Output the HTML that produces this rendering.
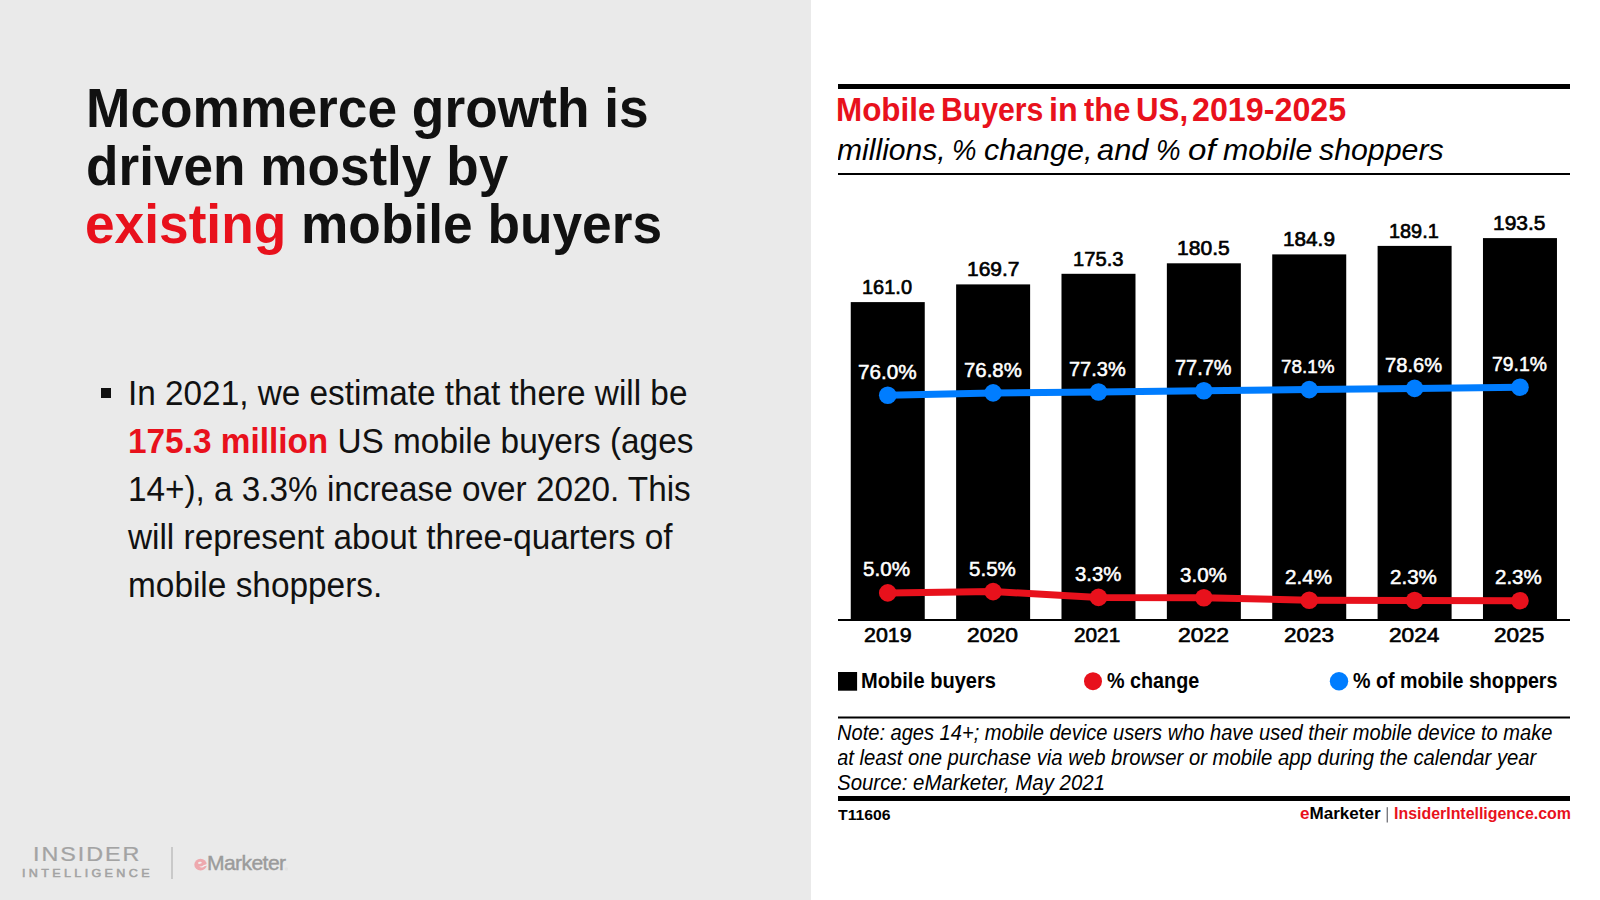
<!DOCTYPE html>
<html><head><meta charset="utf-8">
<style>
*{margin:0;padding:0;box-sizing:border-box}
html,body{width:1600px;height:900px;overflow:hidden;background:#fff;font-family:"Liberation Sans",sans-serif}
.a{position:absolute;white-space:nowrap}
#left{position:absolute;left:0;top:0;width:811px;height:900px;background:#eaeaea}
.r{color:#e8111c}
</style></head><body>
<div id="left">
<div class="a" style="left:85.94px;top:81.86px;font-size:53.33px;line-height:53.33px;font-weight:bold;font-style:normal;color:#111;transform:scale(0.9995,1.0548);transform-origin:0 45.14px;">Mcommerce growth is</div>
<div class="a" style="left:86.17px;top:139.66px;font-size:53.33px;line-height:53.33px;font-weight:bold;font-style:normal;color:#111;transform:scale(0.9962,1.0548);transform-origin:0 45.14px;">driven mostly by</div>
<div class="a" style="left:85.17px;top:197.56px;font-size:53.33px;line-height:53.33px;font-weight:bold;font-style:normal;color:#111;transform:scale(0.9985,1.0548);transform-origin:0 45.14px;"><span class="r">existing</span> mobile buyers</div>
<div class="a" style="left:100.6px;top:388px;width:10.1px;height:9.8px;background:#111"></div>
<div class="a" style="left:127.83px;top:376.72px;font-size:33.33px;line-height:33.33px;font-weight:normal;font-style:normal;color:#111;transform:scale(0.9999,1.0457);transform-origin:0 28.21px;">In 2021, we estimate that there will be</div>
<div class="a" style="left:127.83px;top:424.67px;font-size:33.33px;line-height:33.33px;font-weight:normal;font-style:normal;color:#111;transform:scale(1.0007,1.0457);transform-origin:0 28.21px;"><b class="r">175.3 million</b> US mobile buyers (ages</div>
<div class="a" style="left:127.83px;top:472.62px;font-size:33.33px;line-height:33.33px;font-weight:normal;font-style:normal;color:#111;transform:scale(0.9986,1.0457);transform-origin:0 28.21px;">14+), a 3.3% increase over 2020. This</div>
<div class="a" style="left:127.83px;top:520.57px;font-size:33.33px;line-height:33.33px;font-weight:normal;font-style:normal;color:#111;transform:scale(0.9998,1.0457);transform-origin:0 28.21px;">will represent about three-quarters of</div>
<div class="a" style="left:127.83px;top:568.52px;font-size:33.33px;line-height:33.33px;font-weight:normal;font-style:normal;color:#111;transform:scale(1.0018,1.0457);transform-origin:0 28.21px;">mobile shoppers.</div>
</div>
<svg class="a" style="left:0;top:0" width="1600" height="900"><rect x="838" y="84" width="732" height="5" fill="#000"/><rect x="838" y="173" width="732" height="2" fill="#000"/><rect x="850.75" y="302.10" width="74.0" height="317.90" fill="#000"/><rect x="956.12" y="284.40" width="74.0" height="335.60" fill="#000"/><rect x="1061.49" y="273.80" width="74.0" height="346.20" fill="#000"/><rect x="1166.86" y="263.30" width="74.0" height="356.70" fill="#000"/><rect x="1272.23" y="254.40" width="74.0" height="365.60" fill="#000"/><rect x="1377.60" y="245.90" width="74.0" height="374.10" fill="#000"/><rect x="1482.97" y="238.10" width="74.0" height="381.90" fill="#000"/><rect x="838" y="619" width="732" height="2" fill="#000"/><polyline points="887.75,395.20 993.12,392.90 1098.49,392.00 1203.86,390.80 1309.23,389.60 1414.60,388.40 1519.97,387.20" fill="none" stroke="#007dff" stroke-width="7" stroke-linejoin="round"/><circle cx="887.75" cy="395.20" r="8.8" fill="#007dff"/><circle cx="993.12" cy="392.90" r="8.8" fill="#007dff"/><circle cx="1098.49" cy="392.00" r="8.8" fill="#007dff"/><circle cx="1203.86" cy="390.80" r="8.8" fill="#007dff"/><circle cx="1309.23" cy="389.60" r="8.8" fill="#007dff"/><circle cx="1414.60" cy="388.40" r="8.8" fill="#007dff"/><circle cx="1519.97" cy="387.20" r="8.8" fill="#007dff"/><polyline points="887.75,592.90 993.12,591.60 1098.49,597.40 1203.86,597.80 1309.23,600.20 1414.60,600.50 1519.97,600.70" fill="none" stroke="#e8111c" stroke-width="7" stroke-linejoin="round"/><circle cx="887.75" cy="592.90" r="8.8" fill="#e8111c"/><circle cx="993.12" cy="591.60" r="8.8" fill="#e8111c"/><circle cx="1098.49" cy="597.40" r="8.8" fill="#e8111c"/><circle cx="1203.86" cy="597.80" r="8.8" fill="#e8111c"/><circle cx="1309.23" cy="600.20" r="8.8" fill="#e8111c"/><circle cx="1414.60" cy="600.50" r="8.8" fill="#e8111c"/><circle cx="1519.97" cy="600.70" r="8.8" fill="#e8111c"/><rect x="838" y="672" width="19.1" height="18.7" fill="#000"/><circle cx="1093" cy="681.2" r="9" fill="#e8111c"/><circle cx="1339" cy="681.2" r="9.2" fill="#007dff"/><rect x="838" y="716.5" width="732" height="2" fill="#000"/><rect x="838" y="796" width="732" height="5" fill="#000"/><rect x="1386.6" y="807.2" width="1.4" height="15.3" fill="#7a7a80"/></svg>
<div class="a" style="left:861.90px;top:276.65px;font-size:20.5px;line-height:20.5px;font-weight:normal;font-style:normal;color:#000;transform:scale(0.9756,0.9531);transform-origin:0 17.35px;-webkit-text-stroke:0.032em currentColor;">161.0</div>
<div class="a" style="left:857.92px;top:362.40px;font-size:20.5px;line-height:20.5px;font-weight:normal;font-style:normal;color:#fff;transform:scale(1.0099,1.0181);transform-origin:0 17.35px;-webkit-text-stroke:0.026em currentColor;">76.0%</div>
<div class="a" style="left:863.48px;top:559.35px;font-size:20.5px;line-height:20.5px;font-weight:normal;font-style:normal;color:#fff;transform:scale(1.0062,1.0010);transform-origin:0 17.35px;-webkit-text-stroke:0.026em currentColor;">5.0%</div>
<div class="a" style="left:864.05px;top:624.95px;font-size:20.5px;line-height:20.5px;font-weight:normal;font-style:normal;color:#000;transform:scale(1.0434,1.0008);transform-origin:0 17.35px;-webkit-text-stroke:0.032em currentColor;">2019</div>
<div class="a" style="left:966.54px;top:259.25px;font-size:20.5px;line-height:20.5px;font-weight:normal;font-style:normal;color:#000;transform:scale(1.0242,0.9804);transform-origin:0 17.35px;-webkit-text-stroke:0.032em currentColor;">169.7</div>
<div class="a" style="left:963.78px;top:360.15px;font-size:20.5px;line-height:20.5px;font-weight:normal;font-style:normal;color:#fff;transform:scale(0.9949,1.0215);transform-origin:0 17.35px;-webkit-text-stroke:0.026em currentColor;">76.8%</div>
<div class="a" style="left:968.79px;top:558.65px;font-size:20.5px;line-height:20.5px;font-weight:normal;font-style:normal;color:#fff;transform:scale(1.0019,0.9941);transform-origin:0 17.35px;-webkit-text-stroke:0.026em currentColor;">5.5%</div>
<div class="a" style="left:966.80px;top:624.95px;font-size:20.5px;line-height:20.5px;font-weight:normal;font-style:normal;color:#000;transform:scale(1.1153,1.0008);transform-origin:0 17.35px;-webkit-text-stroke:0.032em currentColor;">2020</div>
<div class="a" style="left:1072.59px;top:248.55px;font-size:20.5px;line-height:20.5px;font-weight:normal;font-style:normal;color:#000;transform:scale(0.9837,0.9531);transform-origin:0 17.35px;-webkit-text-stroke:0.032em currentColor;">175.3</div>
<div class="a" style="left:1069.30px;top:358.55px;font-size:20.5px;line-height:20.5px;font-weight:normal;font-style:normal;color:#fff;transform:scale(0.9747,1.0010);transform-origin:0 17.35px;-webkit-text-stroke:0.026em currentColor;">77.3%</div>
<div class="a" style="left:1074.69px;top:564.35px;font-size:20.5px;line-height:20.5px;font-weight:normal;font-style:normal;color:#fff;transform:scale(0.9931,0.9804);transform-origin:0 17.35px;-webkit-text-stroke:0.026em currentColor;">3.3%</div>
<div class="a" style="left:1074.37px;top:624.95px;font-size:20.5px;line-height:20.5px;font-weight:normal;font-style:normal;color:#000;transform:scale(1.0141,1.0008);transform-origin:0 17.35px;-webkit-text-stroke:0.032em currentColor;">2021</div>
<div class="a" style="left:1176.64px;top:237.65px;font-size:20.5px;line-height:20.5px;font-weight:normal;font-style:normal;color:#000;transform:scale(1.0271,0.9600);transform-origin:0 17.35px;-webkit-text-stroke:0.032em currentColor;">180.5</div>
<div class="a" style="left:1175.00px;top:357.85px;font-size:20.5px;line-height:20.5px;font-weight:normal;font-style:normal;color:#fff;transform:scale(0.9703,1.0353);transform-origin:0 17.35px;-webkit-text-stroke:0.026em currentColor;">77.7%</div>
<div class="a" style="left:1179.69px;top:564.85px;font-size:20.5px;line-height:20.5px;font-weight:normal;font-style:normal;color:#fff;transform:scale(1.0019,0.9667);transform-origin:0 17.35px;-webkit-text-stroke:0.026em currentColor;">3.0%</div>
<div class="a" style="left:1177.60px;top:624.95px;font-size:20.5px;line-height:20.5px;font-weight:normal;font-style:normal;color:#000;transform:scale(1.1205,1.0008);transform-origin:0 17.35px;-webkit-text-stroke:0.032em currentColor;">2022</div>
<div class="a" style="left:1282.51px;top:229.15px;font-size:20.5px;line-height:20.5px;font-weight:normal;font-style:normal;color:#000;transform:scale(1.0120,0.9531);transform-origin:0 17.35px;-webkit-text-stroke:0.032em currentColor;">184.9</div>
<div class="a" style="left:1281.44px;top:356.25px;font-size:20.5px;line-height:20.5px;font-weight:normal;font-style:normal;color:#fff;transform:scale(0.9229,0.9324);transform-origin:0 17.35px;-webkit-text-stroke:0.026em currentColor;">78.1%</div>
<div class="a" style="left:1285.28px;top:566.95px;font-size:20.5px;line-height:20.5px;font-weight:normal;font-style:normal;color:#fff;transform:scale(1.0053,0.9736);transform-origin:0 17.35px;-webkit-text-stroke:0.026em currentColor;">2.4%</div>
<div class="a" style="left:1283.71px;top:624.95px;font-size:20.5px;line-height:20.5px;font-weight:normal;font-style:normal;color:#000;transform:scale(1.0976,1.0008);transform-origin:0 17.35px;-webkit-text-stroke:0.032em currentColor;">2023</div>
<div class="a" style="left:1388.51px;top:220.65px;font-size:20.5px;line-height:20.5px;font-weight:normal;font-style:normal;color:#000;transform:scale(0.9695,0.9804);transform-origin:0 17.35px;-webkit-text-stroke:0.032em currentColor;">189.1</div>
<div class="a" style="left:1385.19px;top:355.35px;font-size:20.5px;line-height:20.5px;font-weight:normal;font-style:normal;color:#fff;transform:scale(0.9826,0.9941);transform-origin:0 17.35px;-webkit-text-stroke:0.026em currentColor;">78.6%</div>
<div class="a" style="left:1390.38px;top:566.95px;font-size:20.5px;line-height:20.5px;font-weight:normal;font-style:normal;color:#fff;transform:scale(1.0042,0.9736);transform-origin:0 17.35px;-webkit-text-stroke:0.026em currentColor;">2.3%</div>
<div class="a" style="left:1388.81px;top:624.95px;font-size:20.5px;line-height:20.5px;font-weight:normal;font-style:normal;color:#000;transform:scale(1.1057,1.0008);transform-origin:0 17.35px;-webkit-text-stroke:0.032em currentColor;">2024</div>
<div class="a" style="left:1492.74px;top:212.55px;font-size:20.5px;line-height:20.5px;font-weight:normal;font-style:normal;color:#000;transform:scale(1.0221,0.9804);transform-origin:0 17.35px;-webkit-text-stroke:0.032em currentColor;">193.5</div>
<div class="a" style="left:1491.63px;top:354.05px;font-size:20.5px;line-height:20.5px;font-weight:normal;font-style:normal;color:#fff;transform:scale(0.9440,0.9941);transform-origin:0 17.35px;-webkit-text-stroke:0.026em currentColor;">79.1%</div>
<div class="a" style="left:1495.28px;top:567.15px;font-size:20.5px;line-height:20.5px;font-weight:normal;font-style:normal;color:#fff;transform:scale(0.9998,0.9598);transform-origin:0 17.35px;-webkit-text-stroke:0.026em currentColor;">2.3%</div>
<div class="a" style="left:1494.01px;top:624.95px;font-size:20.5px;line-height:20.5px;font-weight:normal;font-style:normal;color:#000;transform:scale(1.1018,1.0008);transform-origin:0 17.35px;-webkit-text-stroke:0.032em currentColor;">2025</div>
<div class="a" style="left:835.96px;top:94.54px;font-size:31.5px;line-height:31.5px;font-weight:bold;font-style:normal;color:#e8111c;transform:scale(0.9974,1.0330);transform-origin:0 26.66px;">Mobile</div>
<div class="a" style="left:941.24px;top:94.54px;font-size:31.5px;line-height:31.5px;font-weight:bold;font-style:normal;color:#e8111c;transform:scale(0.9587,1.0330);transform-origin:0 26.66px;">Buyers</div>
<div class="a" style="left:1049.04px;top:94.54px;font-size:31.5px;line-height:31.5px;font-weight:bold;font-style:normal;color:#e8111c;transform:scale(1.0260,1.0330);transform-origin:0 26.66px;">in</div>
<div class="a" style="left:1083.69px;top:94.54px;font-size:31.5px;line-height:31.5px;font-weight:bold;font-style:normal;color:#e8111c;transform:scale(0.9797,1.0330);transform-origin:0 26.66px;">the</div>
<div class="a" style="left:1136.33px;top:94.54px;font-size:31.5px;line-height:31.5px;font-weight:bold;font-style:normal;color:#e8111c;transform:scale(0.9915,1.0330);transform-origin:0 26.66px;">US,</div>
<div class="a" style="left:1192.27px;top:94.54px;font-size:31.5px;line-height:31.5px;font-weight:bold;font-style:normal;color:#e8111c;transform:scale(1.0237,1.0330);transform-origin:0 26.66px;">2019-2025</div>
<div class="a" style="left:838px;top:0;width:732px;height:900px;overflow:hidden">
<div class="a" style="left:-0.60px;top:134.83px;font-size:29.5px;line-height:29.5px;font-weight:normal;font-style:italic;color:#000;transform:scale(1.0204,0.9949);transform-origin:0 24.97px;">millions,</div>
<div class="a" style="left:114.28px;top:134.83px;font-size:29.5px;line-height:29.5px;font-weight:normal;font-style:italic;color:#000;transform:scale(0.9317,0.9949);transform-origin:0 24.97px;">%</div>
<div class="a" style="left:146.13px;top:134.83px;font-size:29.5px;line-height:29.5px;font-weight:normal;font-style:italic;color:#000;transform:scale(1.0324,0.9949);transform-origin:0 24.97px;">change,</div>
<div class="a" style="left:259.33px;top:134.83px;font-size:29.5px;line-height:29.5px;font-weight:normal;font-style:italic;color:#000;transform:scale(1.0454,0.9949);transform-origin:0 24.97px;">and</div>
<div class="a" style="left:317.57px;top:134.83px;font-size:29.5px;line-height:29.5px;font-weight:normal;font-style:italic;color:#000;transform:scale(0.9360,0.9949);transform-origin:0 24.97px;">%</div>
<div class="a" style="left:349.84px;top:134.83px;font-size:29.5px;line-height:29.5px;font-weight:normal;font-style:italic;color:#000;transform:scale(1.1223,0.9949);transform-origin:0 24.97px;">of</div>
<div class="a" style="left:385.29px;top:134.83px;font-size:29.5px;line-height:29.5px;font-weight:normal;font-style:italic;color:#000;transform:scale(1.0287,0.9949);transform-origin:0 24.97px;">mobile</div>
<div class="a" style="left:481.35px;top:134.83px;font-size:29.5px;line-height:29.5px;font-weight:normal;font-style:italic;color:#000;transform:scale(1.0273,0.9949);transform-origin:0 24.97px;">shoppers</div>
<div class="a" style="left:-0.60px;top:723.07px;font-size:20.0px;line-height:20.0px;font-weight:normal;font-style:italic;color:#000;transform:scale(1.0031,1.0701);transform-origin:0 16.93px;">Note: ages 14+; mobile device users who have used their mobile device to make</div>
<div class="a" style="left:-0.60px;top:747.67px;font-size:20.0px;line-height:20.0px;font-weight:normal;font-style:italic;color:#000;transform:scale(1.0146,1.0701);transform-origin:0 16.93px;">at least one purchase via web browser or mobile app during the calendar year</div>
<div class="a" style="left:-0.60px;top:772.67px;font-size:20.0px;line-height:20.0px;font-weight:normal;font-style:italic;color:#000;transform:scale(1.0215,1.0701);transform-origin:0 16.93px;">Source: eMarketer, May 2021</div>
<div class="a" style="left:0.04px;top:806.78px;font-size:15.5px;line-height:15.5px;font-weight:bold;font-style:normal;color:#000;transform:scale(1.0177,0.9796);transform-origin:0 13.12px;">T11606</div>
</div>
<div class="a" style="left:861.30px;top:670.75px;font-size:20.5px;line-height:20.5px;font-weight:bold;font-style:normal;color:#000;transform:scale(0.9793,1.0652);transform-origin:0 17.35px;">Mobile buyers</div>
<div class="a" style="left:1107.11px;top:670.75px;font-size:20.5px;line-height:20.5px;font-weight:bold;font-style:normal;color:#000;transform:scale(0.9640,1.0652);transform-origin:0 17.35px;">% change</div>
<div class="a" style="left:1352.61px;top:670.75px;font-size:20.5px;line-height:20.5px;font-weight:bold;font-style:normal;color:#000;transform:scale(0.9600,1.0652);transform-origin:0 17.35px;">% of mobile shoppers</div>
<div class="a" style="left:1299.52px;top:806.36px;font-size:16px;line-height:16px;font-weight:bold;font-style:normal;color:#000;transform:scale(1.0653,1.0575);transform-origin:0 13.54px;"><span class="r">e</span>Marketer</div>
<div class="a" style="left:1394.07px;top:806.36px;font-size:16px;line-height:16px;font-weight:bold;font-style:normal;color:#e8111c;transform:scale(0.9951,1.0575);transform-origin:0 13.54px;">InsiderIntelligence.com</div>
<div class="a" style="left:33.02px;top:844.38px;font-size:20.82px;line-height:20.82px;font-weight:normal;color:#a3a3a3;letter-spacing:1.748px;transform:scaleX(1.12);transform-origin:0 0;-webkit-text-stroke:0.012em currentColor;">INSIDER</div>
<div class="a" style="left:22.12px;top:868.48px;font-size:11.24px;line-height:11.24px;font-weight:normal;color:#a3a3a3;letter-spacing:2.975px;transform:scaleX(1.12);transform-origin:0 0;-webkit-text-stroke:0.045em currentColor;">INTELLIGENCE</div>
<div class="a" style="left:171.4px;top:847px;width:1.4px;height:31.5px;background:#c9c9c9"></div>
<svg class="a" style="left:0;top:840px" width="320" height="60" viewBox="0 840 320 60"><ellipse cx="200.55" cy="864.65" rx="6.25" ry="5.9" fill="#eea9ae"/><ellipse cx="199.9" cy="862.8" rx="1.9" ry="1.05" transform="rotate(-15 199.9 862.8)" fill="#f0f0f0"/><path d="M199.0,866.2 Q201.6,866.9 203.4,865.2 L207.2,863.9 L207.2,865.4 L204.4,866.3 Q201.8,868.8 199.0,866.2 Z" fill="#f0f0f0"/><circle cx="286.4" cy="869" r="1.7" fill="#e2e2e2"/></svg>
<div class="a" style="left:206.92px;top:852.24px;font-size:21.10px;line-height:21.10px;font-weight:normal;color:#9b9b9b;letter-spacing:-0.578px;transform:scaleX(1.0);transform-origin:0 0;-webkit-text-stroke:0.02em currentColor;">Marketer</div>
</body></html>
